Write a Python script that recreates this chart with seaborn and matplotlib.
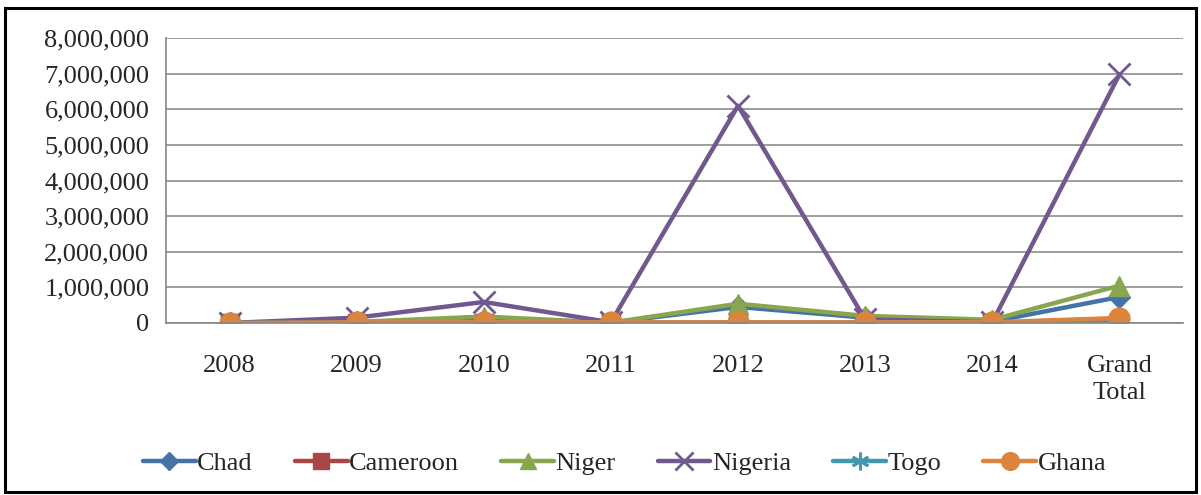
import matplotlib
matplotlib.use("Agg")
import matplotlib.pyplot as plt
from matplotlib.patches import Rectangle
from matplotlib.ticker import FuncFormatter, FixedLocator
import seaborn as sns
import pandas as pd

categories = ["2008", "2009", "2010", "2011", "2012", "2013", "2014", "Grand\nTotal"]
chad = [0, 20000, 60000, 10000, 450000, 150000, 40000, 730000]
cameroon = [0, 5000, 5000, 5000, 10000, 5000, 5000, 35000]
niger = [0, 30000, 180000, 10000, 540000, 200000, 90000, 1050000]
nigeria = [0, 150000, 590000, 20000, 6100000, 100000, 20000, 6980000]
togo = [0, 5000, 5000, 5000, 5000, 5000, 5000, 30000]
ghana = [0, 20000, 20000, 20000, 20000, 20000, 20000, 140000]

series = {
    "Chad": chad, "Cameroon": cameroon, "Niger": niger,
    "Nigeria": nigeria, "Togo": togo, "Ghana": ghana,
}
colors = {"Chad": "#4572A7", "Cameroon": "#AA4643", "Niger": "#89A54E",
          "Nigeria": "#71588F", "Togo": "#4198AF", "Ghana": "#DB843D"}
markers = {"Chad": "D", "Cameroon": "s", "Niger": "^",
           "Nigeria": "x", "Togo": (6, 2, 0), "Ghana": "o"}
msizes = {"Chad": 11, "Cameroon": 13, "Niger": 14, "Nigeria": 16, "Togo": 15, "Ghana": 15}

rows = []
for name, vals in series.items():
    for i, v in enumerate(vals):
        rows.append({"pos": i, "value": v, "country": name})
df = pd.DataFrame(rows)

sns.set_style("white")
plt.rcParams["font.family"] = ["Liberation Serif", "DejaVu Serif"]
FS = 19

fig = plt.figure(figsize=(12.01, 4.95), dpi=100)
ax = fig.add_axes([0.1382, 0.3475, 0.8468, 0.5755])

for name in series:
    sub = df[df["country"] == name]
    sns.lineplot(data=sub, x="pos", y="value", ax=ax, color=colors[name],
                 marker=markers[name], markersize=msizes[name], linewidth=3.2,
                 markeredgecolor=colors[name], markeredgewidth=2 if name in ("Nigeria", "Togo") else 1,
                 label=name, legend=False)

ax.set_xlim(-0.5, 7.5)
ax.set_ylim(0, 8000000)
ax.set_yticks(range(0, 8000001, 1000000))
ax.yaxis.set_major_formatter(FuncFormatter(lambda v, p: f"{int(v):,}"))
ax.xaxis.set_major_locator(FixedLocator([i - 0.5 for i in range(9)]))
ax.xaxis.set_minor_locator(FixedLocator(list(range(8))))
ax.set_xticklabels([], minor=False)
ax.set_xticklabels(categories, minor=True, fontsize=FS, linespacing=1.3)
ax.tick_params(axis="x", which="minor", length=0, pad=23)
ax.tick_params(axis="x", which="major", length=6, width=1.2, color="#868686", direction="out")
ax.tick_params(axis="y", length=6, width=1.2, color="#868686", direction="out", labelsize=FS, pad=6)
ax.grid(axis="y", color="#8C8C8C", linewidth=1.2)
ax.set_axisbelow(True)
for s in ["top", "right"]:
    ax.spines[s].set_visible(False)
for s in ["left", "bottom"]:
    ax.spines[s].set_color("#868686")
    ax.spines[s].set_linewidth(1.2)
ax.set_xlabel("")
ax.set_ylabel("")

handles, labels = ax.get_legend_handles_labels()
fig.legend(handles, labels, loc="center", bbox_to_anchor=(0.52, 0.064), ncol=6,
           frameon=False, fontsize=FS, handlelength=2.0, handletextpad=0.05,
           columnspacing=1.6, markerscale=0.85)

fig.patches.append(Rectangle((0.004, 0.006), 0.992, 0.978, transform=fig.transFigure,
                             fill=False, edgecolor="black", linewidth=2.2))

fig.savefig("out.png", dpi=100)
